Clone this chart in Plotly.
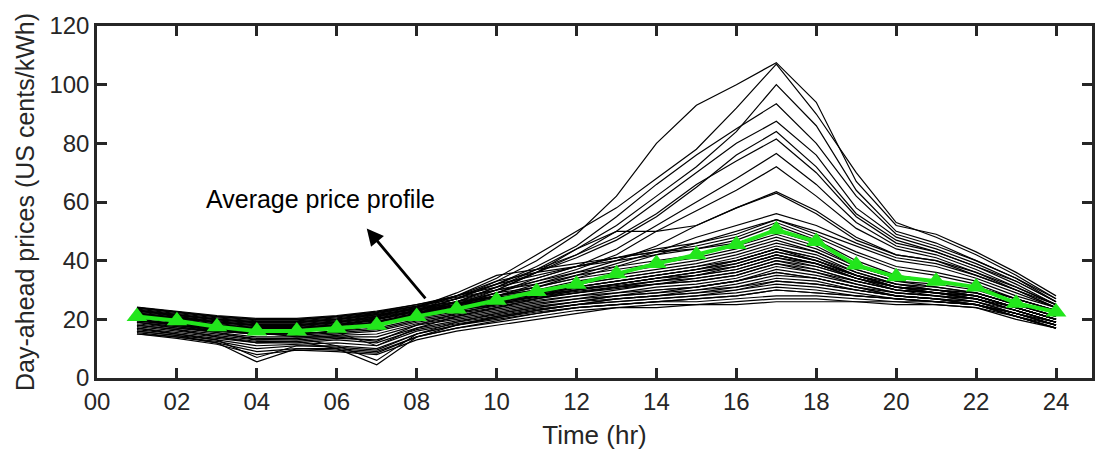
import plotly.graph_objects as go

hours = list(range(1, 25))
x_tick_vals = [0, 2, 4, 6, 8, 10, 12, 14, 16, 18, 20, 22, 24]
x_tick_text = ["00", "02", "04", "06", "08", "10", "12", "14", "16", "18", "20", "22", "24"]
y_tick_vals = [0, 20, 40, 60, 80, 100, 120]

average_profile = [21, 19.5, 17.5, 16, 16, 17, 18, 21, 23.5, 26.5, 29.5, 32, 35.5, 39,
                   42, 45.5, 50.5, 46.5, 38.5, 34.5, 33, 31, 25.5, 22.5]

high_days = [
    [22, 20, 18, 17, 17, 18, 20, 23, 27, 33, 40, 49, 62, 80, 93, 100, 107.5, 94, 67, 52, 49, 43, 36, 28],
    [23, 21, 19, 18, 18, 19, 21, 24, 28, 34, 42, 50, 58, 68, 78, 92, 107, 90, 70, 53, 48, 42, 35, 27],
    [21, 19, 17, 16, 16, 17, 19, 22, 26, 31, 37, 44, 52, 62, 72, 84, 100, 86, 64, 50, 46, 40, 34, 27],
    [22, 20, 18, 17, 17, 18, 20, 23, 27, 32, 38, 45, 55, 66, 76, 85, 93.5, 80, 62, 49, 45, 40, 34, 26],
    [20, 18, 17, 16, 16, 17, 19, 22, 25, 30, 36, 42, 50, 60, 70, 80, 87.5, 76, 58, 48, 44, 39, 33, 26],
    [21, 19, 17, 16, 16, 17, 19, 22, 26, 31, 36, 41, 47, 55, 65, 76, 84, 72, 56, 47, 43, 38, 32, 25],
    [22, 20, 18, 17, 17, 18, 20, 23, 27, 32, 37, 42, 48, 56, 66, 74, 81.5, 70, 55, 46, 43, 38, 33, 26],
    [20, 18, 16, 15, 15, 16, 18, 21, 25, 29, 34, 38, 44, 52, 60, 68, 76.5, 66, 53, 45, 42, 37, 31, 25],
    [21, 19, 17, 16, 16, 17, 19, 22, 25, 29, 33, 37, 42, 50, 57, 64, 72, 62, 51, 44, 41, 36, 31, 25],
    [19, 17, 16, 15, 15, 16, 18, 21, 24, 28, 32, 36, 40, 45, 52, 58, 63.5, 57, 48, 42, 40, 35, 30, 24],
    [20, 18, 17, 16, 16, 17, 19, 22, 25, 28, 31, 35, 39, 43, 48, 52, 56, 52, 46, 41, 39, 35, 30, 24],
    [21, 19, 17, 16, 16, 17, 19, 22, 25, 28, 31, 34, 38, 42, 46, 50, 54, 50, 45, 40, 38, 34, 29, 24],
    [22, 20, 18, 17, 17, 18, 20, 23, 26, 30, 36, 44, 50, 50, 52, 58, 63, 56, 47, 42, 40, 36, 30, 25],
]

normal_days = [
    [24, 22.5, 21, 20, 20, 21, 22.5, 24.5, 27, 30, 33, 36, 38, 40, 42, 45, 49, 45, 38, 34, 33, 31, 27, 23],
    [23.5, 22, 20.5, 19.5, 19.5, 20.5, 22, 24, 26, 29, 31, 34, 36, 38, 40, 43, 47, 43, 37, 33, 32, 30, 26, 22],
    [23, 21.5, 20, 19, 19, 20, 21.5, 23.5, 25.5, 28, 30, 32, 34, 36, 38, 41, 45, 42, 36, 32, 31, 29, 25, 21],
    [22.5, 21, 19.5, 18.5, 18.5, 19.5, 21, 23, 25, 27, 29, 31, 33, 35, 37, 40, 44, 40, 35, 32, 30, 29, 25, 21],
    [22, 20.5, 19, 18, 18, 19, 20.5, 22.5, 24.5, 26.5, 28.5, 30, 32, 34, 36, 39, 43, 40, 35, 31, 30, 28, 24, 20],
    [21.5, 20, 18.5, 17.5, 17.5, 18.5, 20, 22, 24, 26, 28, 30, 32, 34, 35, 38, 42, 39, 34, 31, 29, 28, 24, 20],
    [21, 19.5, 18, 17, 17, 18, 19, 21.5, 23.5, 25.5, 27.5, 29, 31, 33, 35, 37, 41, 38, 34, 30, 29, 27, 24, 20],
    [20.5, 19, 17.5, 16.5, 16.5, 17.5, 18.5, 21, 23, 25, 27, 29, 31, 32, 34, 36, 40, 37, 33, 30, 29, 27, 23, 19],
    [20, 18.5, 17, 16, 16, 17, 18, 20.5, 22.5, 24.5, 26.5, 28, 30, 32, 33, 35, 39, 36, 33, 30, 28, 27, 23, 19],
    [19.5, 18, 16.5, 15.5, 15, 16, 17, 20, 22, 24, 26, 28, 29, 31, 32, 34, 38, 36, 32, 29, 28, 26, 23, 19],
    [19, 17.5, 16, 15, 14.5, 15.5, 16.5, 19.5, 21.5, 23.5, 25.5, 27, 29, 30, 31, 33, 37, 35, 32, 29, 28, 26, 22, 19],
    [18.5, 17, 15.5, 14, 14, 15, 16, 19, 21, 23, 25, 27, 28, 30, 31, 33, 36, 34, 31, 28, 27, 26, 22, 18],
    [18, 16.5, 15, 13.5, 13.5, 14.5, 15, 18.5, 20.5, 22.5, 24.5, 26, 28, 29, 30, 32, 35, 34, 31, 28, 27, 25, 22, 18],
    [17.5, 16, 14.5, 13, 13, 14, 14, 18, 20, 22, 24, 26, 27, 28, 30, 31, 34, 33, 30, 28, 27, 25, 22, 18],
    [17, 15.5, 14, 12.5, 12.5, 13.5, 13, 17, 19.5, 21.5, 23.5, 25, 27, 28, 29, 30, 33, 32, 30, 28, 27, 25, 21, 18],
    [16.5, 15, 13.5, 12, 12, 13, 12, 16.5, 19, 21, 23, 25, 26, 27, 28, 30, 32, 31, 29, 27, 26, 25, 21, 17],
    [16, 14.5, 13, 11, 11.5, 12, 11, 16, 18.5, 20.5, 22.5, 24, 25, 26, 27, 28, 30, 29, 28, 27, 26, 25, 21, 17],
    [15.5, 14, 12.5, 10, 11, 11, 10, 15, 18, 20, 22, 24, 25, 26, 26, 27, 28, 28, 27, 26, 26, 25, 21, 17],
    [15, 14, 12, 9, 10, 10, 9, 14, 17, 19, 21, 23, 24, 25, 25, 26, 27, 27, 26, 26, 25, 24, 21, 17],
    [15, 13.5, 11.5, 8, 9.5, 9, 8, 13, 16, 18, 20, 22, 24, 24, 25, 25, 26, 26, 26, 25, 25, 24, 20, 17],
    [16, 14.5, 12, 5.5, 10, 9.5, 8.5, 14, 17, 19.5, 22, 24, 25, 26, 27, 28, 30, 29, 28, 27, 26, 25, 22, 18],
    [17, 15, 13, 7, 11, 10.5, 9.5, 15, 18, 20.5, 23, 25, 26, 27, 28, 29, 31, 30, 28, 27, 26, 25, 22, 18],
    [18, 16.5, 14, 12, 12.5, 10, 4.5, 14, 18, 21, 23, 25, 27, 28, 29, 31, 33, 32, 30, 28, 27, 26, 22, 19],
    [19, 17.5, 15.5, 13, 13.5, 11, 6, 15, 19, 22, 24, 26, 28, 29, 31, 33, 36, 34, 31, 29, 28, 27, 23, 19],
    [19.5, 18, 16.5, 15, 15.5, 15.5, 11, 17, 21, 24, 27, 30, 32, 34, 36, 38, 42, 39, 34, 30, 29, 28, 24, 20],
    [20, 18.5, 17, 15.5, 14, 14, 12.5, 18, 22, 25, 28, 31, 33, 35, 37, 40, 44, 41, 35, 31, 30, 28, 24, 20],
    [22, 20.5, 19, 18, 18, 19, 21, 24, 29, 35, 37, 39, 41, 43, 44, 46, 50, 46, 39, 34, 33, 31, 27, 23],
    [21, 19.5, 18, 17, 17, 18, 20, 23, 28, 33, 36, 38, 40, 42, 44, 47, 52, 47, 40, 35, 33, 31, 26, 22],
    [23, 21.5, 20, 19, 19, 20, 22, 24.5, 28, 32, 35, 38, 41, 43, 45, 48, 53, 48, 42, 37, 35, 32, 27, 23],
    [24, 22.5, 21, 20, 20, 21, 22.5, 25, 28, 31, 34, 38, 41, 44, 46, 49, 54, 49, 43, 38, 36, 33, 28, 24],
]

extra_days = [
    [23.8, 22.3, 20.8, 19.8, 19.8, 20.8, 22.3, 24.3, 26, 28, 30, 33, 35, 37, 39, 42, 46, 43, 37, 33, 31, 29, 25, 21],
    [23.2, 21.7, 20.2, 19.2, 19.2, 20.2, 21.7, 23.7, 25.5, 27.5, 29.5, 32, 34, 36, 38, 40, 44, 41, 36, 32, 30, 29, 25, 21],
    [22.8, 21.3, 19.8, 18.8, 18.8, 19.8, 21.3, 23.3, 25, 27, 29, 31, 33, 35, 37, 39, 43, 40, 35, 31, 30, 28, 24, 20],
    [22.2, 20.8, 19.2, 18.2, 18.2, 19.2, 20.8, 22.8, 24.8, 26.8, 28.8, 30.5, 32, 34, 36, 38, 42, 39, 35, 31, 29, 28, 24, 20],
    [21.8, 20.3, 18.8, 17.8, 17.8, 18.8, 20.3, 22.3, 24.3, 26.3, 28.3, 30, 31.5, 33, 35, 37, 41, 39, 34, 31, 30, 28, 24, 20],
    [21.2, 19.8, 18.2, 17.2, 17.2, 18.2, 19.5, 21.8, 23.8, 25.8, 27.8, 29.5, 31, 33, 34, 36, 40, 38, 34, 31, 29, 27, 23, 19],
    [20.8, 19.2, 17.8, 16.8, 16.8, 17.8, 19, 21.2, 23.2, 25.2, 27.2, 29, 30.5, 32, 33, 35, 39, 37, 33, 30, 29, 27, 23, 19],
    [24.2, 22.8, 21.3, 20.3, 20.3, 21.3, 22.8, 25, 27.5, 30, 32, 35, 37, 39, 41, 44, 48, 44, 38, 34, 33, 31, 27, 23],
]

FONT = "Liberation Sans, Arial, sans-serif"
INK = "#262626"

fig = go.Figure()
for day in high_days + normal_days + extra_days:
    fig.add_trace(go.Scatter(x=hours, y=day, mode="lines",
                             line=dict(color="black", width=1.2), hoverinfo="skip",
                             showlegend=False))

fig.add_trace(go.Scatter(x=hours, y=average_profile, mode="lines+markers",
                         line=dict(color="#22e61c", width=4),
                         marker=dict(symbol="triangle-up", size=18, color="#22e61c"),
                         showlegend=False))

axis_common = dict(showline=True, linecolor=INK, linewidth=2.5, mirror="ticks",
                   ticks="inside", ticklen=10, tickwidth=2.5, tickcolor=INK,
                   showgrid=False, zeroline=False, automargin=False,
                   tickfont=dict(family=FONT, size=24, color=INK))

fig.update_xaxes(range=[0, 24.9], tickvals=x_tick_vals, ticktext=x_tick_text,
                 title=dict(text="Time (hr)", standoff=13,
                            font=dict(family=FONT, size=26, color=INK)),
                 **axis_common)
fig.update_yaxes(range=[0, 120], tickvals=y_tick_vals,
                 title=dict(text="Day-ahead prices (US cents/kWh)", standoff=8,
                            font=dict(family=FONT, size=25, color=INK)),
                 **axis_common)

fig.add_annotation(x=6.75, y=51, ax=8.25, ay=26.6, xref="x", yref="y", axref="x", ayref="y",
                   text="", showarrow=True, arrowhead=2, arrowsize=1.2, arrowwidth=2.8,
                   arrowcolor="black")
fig.add_annotation(x=5.6, y=61, xref="x", yref="y", text="Average price profile",
                   showarrow=False,
                   font=dict(family=FONT, size=25, color="black"))

fig.update_layout(width=1096, height=455, margin=dict(l=97, r=4, t=26, b=77),
                  plot_bgcolor="white", paper_bgcolor="white")

fig.write_html("out.html")
